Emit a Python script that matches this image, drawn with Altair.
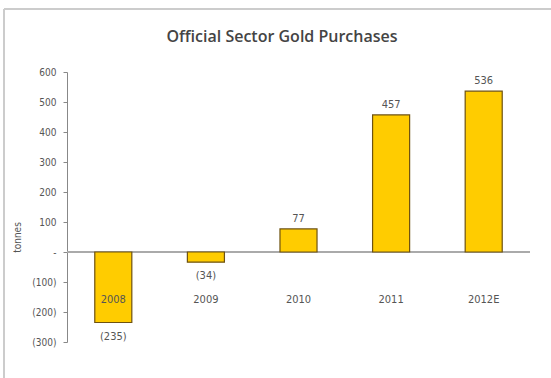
import altair as alt
import pandas as pd

# Official sector net gold purchases, tonnes
years = ["2008", "2009", "2010", "2011", "2012E"]
tonnes = [-235, -34, 77, 457, 536]
title_text = "Official Sector Gold Purchases"

df = pd.DataFrame({"year": years, "tonnes": tonnes})
df["label"] = [f"({abs(v)})" if v < 0 else f"{v}" for v in tonnes]
df["cat_y"] = -160

FONT = "Liberation Sans Narrow, DejaVu Sans Condensed, Arial Narrow, sans-serif"
TXT = "#555555"

x_enc = alt.X("year:N", sort=years, axis=None,
              scale=alt.Scale(paddingInner=0.6, paddingOuter=0.3))
y_scale = alt.Scale(domain=[-300, 600], nice=False, zero=False)
y_axis = alt.Axis(
    values=list(range(-300, 601, 100)),
    labelExpr="datum.value == 0 ? '-' : (datum.value < 0 ? '(' + abs(datum.value) + ')' : datum.value)",
    labelOverlap=False, labelFlush=False,
    title="tonnes", titleFont=FONT, titleFontSize=10, titleFontWeight="normal",
    titleColor=TXT, titleX=-45, titleY=165,
    labelFont=FONT, labelFontSize=10, labelColor=TXT, labelPadding=7,
    domainColor="#888888", tickColor="#888888", tickSize=4,
    grid=False)


def yq(field):
    return alt.Y(f"{field}:Q", scale=y_scale, axis=y_axis)


base = alt.Chart(df)

bars = base.mark_bar(color="#FFCC00", stroke="#6e5210", strokeWidth=1.2).encode(
    x=x_enc, y=yq("tonnes"), y2=alt.datum(0),
)

zero = alt.Chart(pd.DataFrame({"z": [0]})).mark_rule(color="#aaaaaa", strokeWidth=2).encode(
    y=yq("z")
)

pos_labels = base.transform_filter("datum.tonnes >= 0").mark_text(
    font=FONT, fontSize=11, color=TXT, baseline="bottom", dy=-5
).encode(x=x_enc, y=yq("tonnes"), text="label:N")

neg_labels = base.transform_filter("datum.tonnes < 0").mark_text(
    font=FONT, fontSize=11, color=TXT, baseline="top", dy=8
).encode(x=x_enc, y=yq("tonnes"), text="label:N")

cat_labels = base.mark_text(
    font=FONT, fontSize=11, color=TXT, baseline="middle"
).encode(x=x_enc, y=yq("cat_y"), text="year:N")

# light frame along the top and left edges of the panel
frame_left = alt.Chart(pd.DataFrame({"k": [0]})).mark_rule(color="#cccccc", strokeWidth=2).encode(
    x=alt.value(-63), y=alt.value(-63), y2=alt.value(320)
)
frame_top = alt.Chart(pd.DataFrame({"k": [0]})).mark_rule(color="#cccccc", strokeWidth=2).encode(
    x=alt.value(-63), x2=alt.value(500), y=alt.value(-63)
)

# chart heading, drawn inside the framed panel
heading = alt.Chart(pd.DataFrame({"t": [title_text]})).mark_text(
    font="Open Sans", fontSize=16, fontWeight=600, color="#444444",
    align="center", baseline="middle"
).encode(x=alt.value(215), y=alt.value(-35), text="t:N")

chart = alt.layer(
    frame_left, frame_top, heading, zero, bars, pos_labels, neg_labels, cat_labels
).properties(
    width=463, height=270,
    autosize="none",
    padding={"left": 67, "top": 72, "right": 21, "bottom": 36},
    background="white",
).configure_view(strokeWidth=0)

chart.save("out.html", embed_options={"renderer": "svg", "actions": False})
